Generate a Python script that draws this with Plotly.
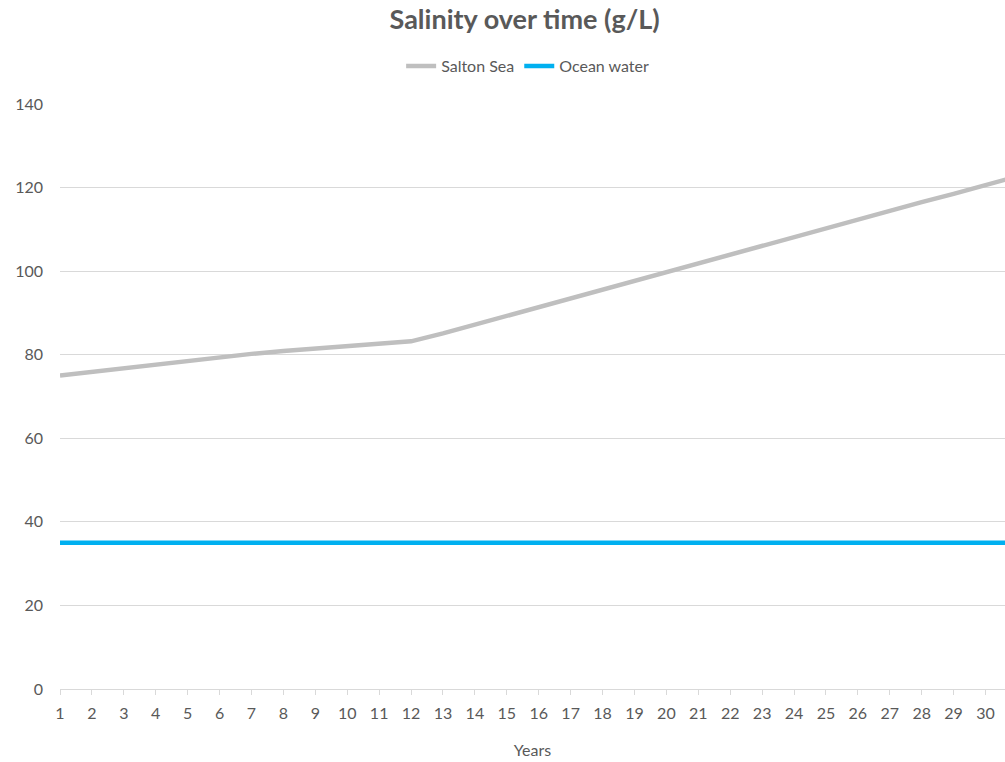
import plotly.graph_objects as go

# Years on the category axis
years = list(range(1, 32))

# Salinity (g/L) of the Salton Sea, one value per year
salton_sea = [75.0, 75.9, 76.8, 77.6, 78.4, 79.3, 80.2, 80.9, 81.5, 82.0, 82.6, 83.2,
              85.1, 87.2, 89.3, 91.4, 93.5, 95.6, 97.8, 99.9, 102.0, 104.1, 106.2,
              108.2, 110.3, 112.4, 114.4, 116.5, 118.5, 120.6, 122.7]

# Typical ocean water salinity (g/L)
ocean_water = [35.0] * len(years)

y_ticks = [0, 20, 40, 60, 80, 100, 120, 140]

FONT = "Lato"
TEXT = "#595959"
GRID = "#D9D9D9"
SIZE = 16

fig = go.Figure()
fig.add_trace(go.Scatter(x=years, y=salton_sea, mode="lines", name="Salton Sea",
                         line=dict(color="#BFBFBF", width=4.5)))
fig.add_trace(go.Scatter(x=years, y=ocean_water, mode="lines", name="Ocean water",
                         line=dict(color="#00B0F0", width=4.5)))

fig.update_layout(
    width=1005, height=762,
    margin=dict(l=60, r=0, t=104, b=73),
    paper_bgcolor="white", plot_bgcolor="white",
    font=dict(family=FONT, color=TEXT, size=SIZE),
    title=dict(text="<b>Salinity over time (g/L)</b>", xref="container", x=0.522,
               xanchor="center", yref="container", y=1 - 20 / 762, yanchor="middle",
               font=dict(family=FONT, size=27, color=TEXT)),
    legend=dict(orientation="h", xref="container", x=0.525, xanchor="center",
                yref="container", y=1 - 66 / 762, yanchor="middle",
                font=dict(family=FONT, size=SIZE, color=TEXT), itemwidth=30,
                traceorder="normal"),
    showlegend=True,
)

fig.update_xaxes(
    range=[1, 30.61], tickmode="array", tickvals=years, ticktext=[str(v) for v in years],
    showgrid=False, zeroline=False, showline=True, linecolor=GRID, linewidth=1,
    ticks="outside", ticklen=5, tickcolor=GRID, ticklabelstandoff=5,
    tickfont=dict(size=SIZE, color=TEXT),
    title=dict(text="Years", font=dict(size=SIZE, color=TEXT), standoff=23),
)
fig.update_yaxes(
    range=[0, 140], tickmode="array", tickvals=y_ticks,
    showgrid=True, gridcolor=GRID, gridwidth=1, zeroline=False, showline=False,
    ticks="", ticklabelstandoff=16, tickfont=dict(size=SIZE, color=TEXT),
)

fig.write_html("out.html")
